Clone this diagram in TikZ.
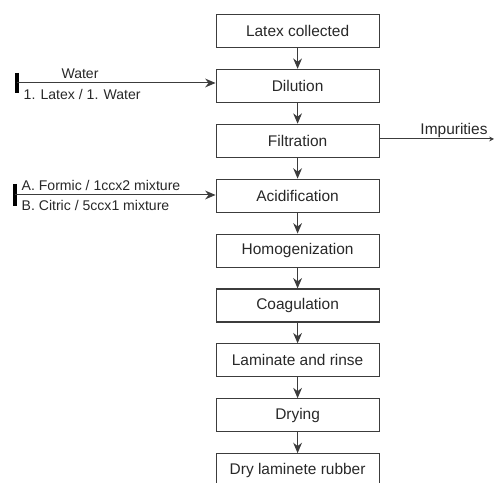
\documentclass[tikz,border=0pt]{standalone}
\usepackage{fontspec}
\setmainfont{Liberation Sans}
\usepackage{xcolor}
\definecolor{lxline}{RGB}{60,60,60}
\definecolor{lxtext}{RGB}{40,40,40}
\usetikzlibrary{arrows.meta,positioning,calc}

\tikzset{
  stepbox/.style={draw=lxline, line width=0.8pt, minimum width=4.075cm, minimum height=0.825cm, inner sep=0pt, font=\fontsize{11}{13}\selectfont, text=lxtext},
  flow/.style={-{Stealth[length=2.6mm,width=2.2mm]}, draw=lxline, line width=0.7pt},
  feed/.style={font=\fontsize{10}{12}\selectfont, text=lxtext, inner sep=1pt},
  feedbar/.style={line width=2.2pt, draw=black}
}

\begin{document}
\begin{tikzpicture}
  \useasboundingbox (0,0) rectangle (12.35,12.075);

  %--- Process steps ---
  \node[stepbox] (latex) at (7.44,11.3) {Latex collected};
  \node[stepbox] (dil) at (7.44,9.9275) {Dilution};
  \node[stepbox] (filt) at (7.44,8.555) {Filtration};
  \node[stepbox] (acid) at (7.44,7.1825) {Acidification};
  \node[stepbox] (homo) at (7.44,5.81) {Homogenization};
  \node[stepbox] (coag) at (7.44,4.4375) {Coagulation};
  \node[stepbox] (lam) at (7.44,3.065) {Laminate and rinse};
  \node[stepbox] (dry) at (7.44,1.6925) {Drying};
  \node[stepbox] (rubber) at (7.44,0.32) {Dry laminete rubber};

  \draw[flow] (latex) -- (dil);
  \draw[flow] (dil) -- (filt);
  \draw[flow] (filt) -- (acid);
  \draw[flow] (acid) -- (homo);
  \draw[flow] (homo) -- (coag);
  \draw[flow] (coag) -- (lam);
  \draw[flow] (lam) -- (dry);
  \draw[flow] (dry) -- (rubber);

  %--- Water feed ---
  \coordinate (wsrc) at (0.425,10.0);
  \draw[feedbar] ($(wsrc)+(0,0.25)$) -- ($(wsrc)+(0,-0.25)$);
  \draw[flow] (wsrc) -- (wsrc -| dil.west);
  \node[feed] (water) at (2.0,10.23) {Water};
  \node[feed, anchor=west] (ratio) at (0.55,9.72) {1. Latex / 1. Water};

  %--- Acid feed ---
  \coordinate (asrc) at (0.375,7.2);
  \draw[feedbar] ($(asrc)+(0,0.28)$) -- ($(asrc)+(0,-0.28)$);
  \draw[flow] (asrc) -- (asrc -| acid.west);
  \node[feed, anchor=west] (formic) at (0.5,7.44) {A. Formic / 1ccx2 mixture};
  \node[feed, anchor=west] (citric) at (0.5,6.94) {B. Citric / 5ccx1 mixture};

  %--- Impurities out ---
  \coordinate (imp) at (12.35,8.6);
  \draw[-{Stealth[length=1.2mm,width=1.2mm]}, draw=lxline, line width=0.7pt] (filt.east |- imp) -- (imp);
  \node[feed, anchor=south, font=\fontsize{11}{13}\selectfont] (impur) at (11.35,8.6) {Impurities};
\end{tikzpicture}
\end{document}
